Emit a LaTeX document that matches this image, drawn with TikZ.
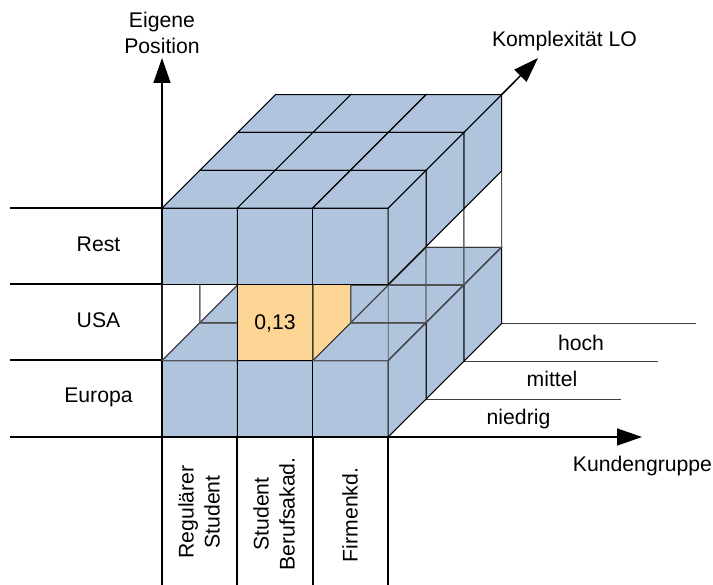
\documentclass[tikz,border=0pt]{standalone}
\usepackage{fontspec}
\setmainfont{Liberation Sans}
\usetikzlibrary{arrows.meta}

\definecolor{cubeblue}{RGB}{176,196,222}
\definecolor{cubeorange}{RGB}{253,213,149}
\definecolor{wiregray}{RGB}{85,85,85}

% cell size: width, height, depth step
\def\cw{75.4}
\def\ch{76.3}
\def\cd{37.8}

% solid cube: column #1, layer #2, depth #3, fill colour #4
\newcommand{\solidcube}[4]{%
  \pgfmathsetmacro{\cx}{162+\cw*#1+\cd*#3}%
  \pgfmathsetmacro{\cy}{-437+\ch*#2+\cd*#3}%
  \pgfmathsetmacro{\rx}{\cw+\cd}%
  \pgfmathsetmacro{\ty}{\ch+\cd}%
  \begin{scope}[shift={(\cx,\cy)}]
    \filldraw[cubeedge,fill=#4] (0,0) -- (\cw,0) -- (\cw,\ch) -- (0,\ch) -- cycle;
    \filldraw[cubeedge,fill=#4] (0,\ch) -- (\cw,\ch) -- (\rx,\ty) -- (\cd,\ty) -- cycle;
    \filldraw[cubeedge,fill=#4] (\cw,0) -- (\rx,\cd) -- (\rx,\ty) -- (\cw,\ch) -- cycle;
  \end{scope}}

% empty cell of the cube, drawn as a wire frame
\newcommand{\wirecube}[3]{%
  \pgfmathsetmacro{\cx}{162+\cw*#1+\cd*#3}%
  \pgfmathsetmacro{\cy}{-437+\ch*#2+\cd*#3}%
  \pgfmathsetmacro{\rx}{\cw+\cd}%
  \pgfmathsetmacro{\ty}{\ch+\cd}%
  \begin{scope}[shift={(\cx,\cy)}]
    \draw[wireedge] (0,0) rectangle (\cw,\ch)
      (\cd,\cd) rectangle (\rx,\ty)
      (0,0) -- (\cd,\cd) (\cw,0) -- (\rx,\cd)
      (\cw,\ch) -- (\rx,\ty) (0,\ch) -- (\cd,\ty);
  \end{scope}}

\begin{document}
\begin{tikzpicture}[x=1pt,y=1pt,
  cubeedge/.style={draw=black,line width=1pt,line join=miter},
  wireedge/.style={draw=wiregray,line width=0.9pt},
  axisline/.style={draw=black,line width=1.5pt},
  floorline/.style={draw=black!75,line width=1pt},
  axisarrow/.style={axisline,-{Triangle[length=25pt,width=17pt]}},
  lbl/.style={font=\fontsize{21.2}{26}\selectfont,inner sep=0pt,anchor=base},
  collbl/.style={font=\fontsize{21.2}{26}\selectfont,inner sep=0pt,align=center,rotate=90}]

\useasboundingbox (0,0) rectangle (713,-585);

% axis end points and row/column guides
\coordinate (ybot) at (162,-585);
\coordinate (ytip) at (162,-58);
\coordinate (xleft) at (10,-437);
\coordinate (xtip) at (642,-437);
\coordinate (ztail) at (501.6,-94.7);
\coordinate (ztip) at (538,-58);
\coordinate (r0) at (10,-208);  \coordinate (r0e) at (162,-208);
\coordinate (r1) at (10,-284);  \coordinate (r1e) at (162,-284);
\coordinate (r2) at (10,-360);  \coordinate (r2e) at (162,-360);
\coordinate (c1t) at (237,-437); \coordinate (c1b) at (237,-585);
\coordinate (c2t) at (313,-437); \coordinate (c2b) at (313,-585);
\coordinate (c3t) at (388,-437); \coordinate (c3b) at (388,-585);
\coordinate (f1) at (426,-399.2); \coordinate (f1e) at (621,-399.2);
\coordinate (f2) at (464,-361.4); \coordinate (f2e) at (658,-361.4);
\coordinate (f3) at (501.6,-323.6); \coordinate (f3e) at (696,-323.6);

% axes and guide lines behind the cube
\draw[axisarrow] (ybot) -- (ytip);
\draw[axisarrow] (xleft) -- (xtip);
\draw[axisline] (r0) -- (r0e);
\draw[axisline,line width=2pt] (r1) -- (r1e);
\draw[axisline] (r2) -- (r2e);
\draw[axisline] (c1t) -- (c1b);
\draw[axisline] (c2t) -- (c2b);
\draw[axisline] (c3t) -- (c3b);
\draw[floorline] (f1) -- (f1e);
\draw[floorline] (f2) -- (f2e);
\draw[floorline] (f3) -- (f3e);

% bottom layer
\foreach \k in {2,1,0}{\foreach \i in {0,1,2}{\solidcube{\i}{0}{\k}{cubeblue}}}

% middle layer: one highlighted cell, the rest empty
\wirecube{0}{1}{2} \wirecube{1}{1}{2} \wirecube{2}{1}{2}
\wirecube{0}{1}{1} \wirecube{1}{1}{1} \wirecube{2}{1}{1}
\wirecube{0}{1}{0} \solidcube{1}{1}{0}{cubeorange} \wirecube{2}{1}{0}

% top layer
\foreach \k in {2,1,0}{\foreach \i in {0,1,2}{\solidcube{\i}{2}{\k}{cubeblue}}}

% depth axis
\draw[axisarrow] (ztail) -- (ztip);

% labels
\node[lbl] (val) at (275,-330) {0,13};
\node[lbl] (ylab1) at (162,-28) {Eigene};
\node[lbl] (ylab2) at (162,-54) {Position};
\node[lbl] (zlab) at (564.5,-47) {Komplexität LO};
\node[lbl] (xlab) at (642.5,-472) {Kundengruppe};
\node[lbl] (rest) at (98.5,-252) {Rest};
\node[lbl] (usa) at (98.5,-328) {USA};
\node[lbl] (eur) at (98.5,-403) {Europa};
\node[lbl] (hoch) at (581,-351) {hoch};
\node[lbl] (mittel) at (552,-387) {mittel};
\node[lbl] (niedrig) at (518.5,-425) {niedrig};
\node[collbl] (col1) at (199,-512) {Regulärer\\Student};
\node[collbl] (col2) at (274,-514) {Student\\Berufsakad.};
\node[collbl] (col3) at (350,-515) {Firmenkd.};
\end{tikzpicture}
\end{document}
